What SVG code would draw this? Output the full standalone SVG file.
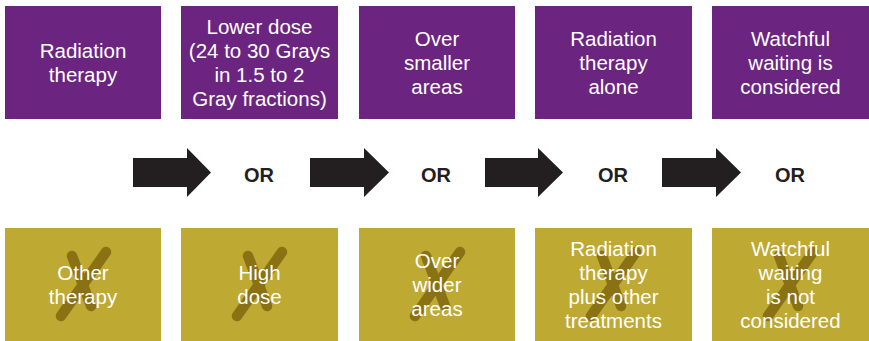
<svg xmlns="http://www.w3.org/2000/svg" width="869" height="341" viewBox="0 0 869 341">
<style>
.top{fill:#6b2580}
.bot{fill:#bea932}
.t{font-family:"Liberation Sans",Arial,sans-serif;font-size:20.5px;fill:#ffffff;text-anchor:middle}
.or{font-family:"Liberation Sans",Arial,sans-serif;font-size:20px;font-weight:bold;fill:#231f20;text-anchor:middle}
.arrow{fill:#231f20}
.x{fill:none;stroke:#8a7113;stroke-width:10.5;stroke-linecap:round}
</style>
<defs>
<g id="xmark">
<path class="x" d="M67,28 L86,78"/>
<path class="x" d="M101,24 L56,88"/>
</g>
</defs>
<g id="top1"><rect class="top" x="5" y="6" width="156" height="113"/><text class="t" x="83" y="58">Radiation</text><text class="t" x="83" y="82">therapy</text></g>
<g id="top2"><rect class="top" x="181" y="6" width="157" height="113"/><text class="t" x="259.5" y="34">Lower dose</text><text class="t" x="259.5" y="58">(24 to 30 Grays</text><text class="t" x="259.5" y="82">in 1.5 to 2</text><text class="t" x="259.5" y="106">Gray fractions)</text></g>
<g id="top3"><rect class="top" x="359" y="6" width="156" height="113"/><text class="t" x="437" y="46">Over</text><text class="t" x="437" y="70">smaller</text><text class="t" x="437" y="94">areas</text></g>
<g id="top4"><rect class="top" x="535" y="6" width="157" height="113"/><text class="t" x="613.5" y="46">Radiation</text><text class="t" x="613.5" y="70">therapy</text><text class="t" x="613.5" y="94">alone</text></g>
<g id="top5"><rect class="top" x="712" y="6" width="157" height="113"/><text class="t" x="790.5" y="46">Watchful</text><text class="t" x="790.5" y="70">waiting is</text><text class="t" x="790.5" y="94">considered</text></g>
<g id="connectors">
<polygon class="arrow" points="133,158 187,158 187,148 211,172.5 187,197 187,187 133,187"/>
<polygon class="arrow" points="310,158 364,158 364,148 389,172.5 364,197 364,187 310,187"/>
<polygon class="arrow" points="485,158 538,158 538,148 563,172.5 538,197 538,187 485,187"/>
<polygon class="arrow" points="662,158 716,158 716,148 741,172.5 716,197 716,187 662,187"/>
</g>
<g id="or1"><text class="or" x="259" y="182">OR</text></g>
<g id="or2"><text class="or" x="436" y="182">OR</text></g>
<g id="or3"><text class="or" x="613" y="182">OR</text></g>
<g id="or4"><text class="or" x="790" y="182">OR</text></g>
<g id="bot1"><rect class="bot" x="5" y="228" width="156" height="113"/><use href="#xmark" transform="translate(5,228)"/><text class="t" x="83" y="280">Other</text><text class="t" x="83" y="304">therapy</text></g>
<g id="bot2"><rect class="bot" x="181" y="228" width="157" height="113"/><use href="#xmark" transform="translate(181,228)"/><text class="t" x="259.5" y="280">High</text><text class="t" x="259.5" y="304">dose</text></g>
<g id="bot3"><rect class="bot" x="359" y="228" width="156" height="113"/><use href="#xmark" transform="translate(359,228)"/><text class="t" x="437" y="268">Over</text><text class="t" x="437" y="292">wider</text><text class="t" x="437" y="316">areas</text></g>
<g id="bot4"><rect class="bot" x="535" y="228" width="157" height="113"/><use href="#xmark" transform="translate(535,228)"/><text class="t" x="613.5" y="256">Radiation</text><text class="t" x="613.5" y="280">therapy</text><text class="t" x="613.5" y="304">plus other</text><text class="t" x="613.5" y="328">treatments</text></g>
<g id="bot5"><rect class="bot" x="712" y="228" width="157" height="113"/><use href="#xmark" transform="translate(712,228)"/><text class="t" x="790.5" y="256">Watchful</text><text class="t" x="790.5" y="280">waiting</text><text class="t" x="790.5" y="304">is not</text><text class="t" x="790.5" y="328">considered</text></g>
</svg>
